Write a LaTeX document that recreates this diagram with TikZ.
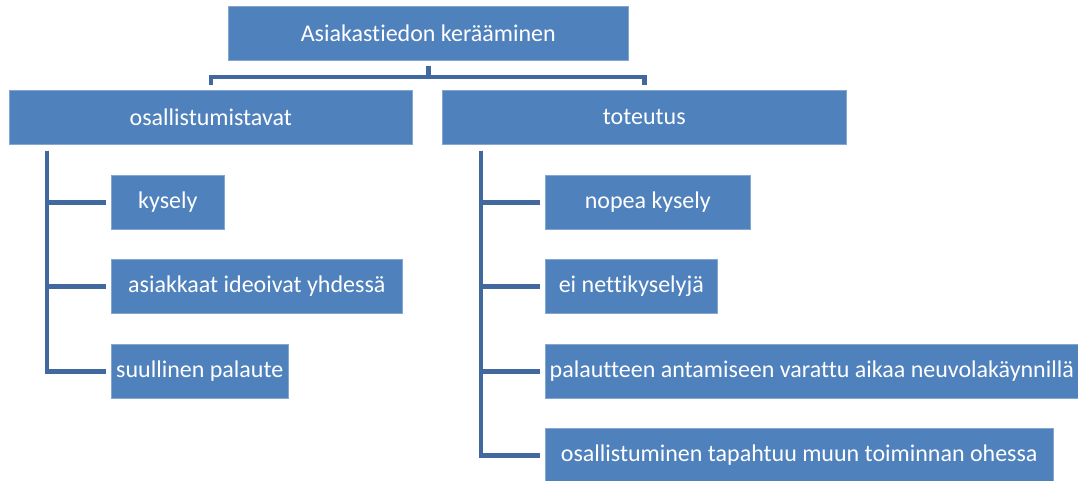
\documentclass[tikz,border=0pt]{standalone}
\usepackage{fontspec}
\setmainfont{Carlito}[Ligatures={NoCommon}]
\definecolor{boxblue}{HTML}{4F81BD}
\definecolor{lineblue}{HTML}{41699F}
\begin{document}
\begin{tikzpicture}[x=1pt,y=-1pt,
  box/.style={anchor=north west,fill=boxblue,draw=boxblue!70!white,line width=0.6pt,
    text=white,inner sep=0pt,font=\fontsize{24}{28}\selectfont,align=center},
  conn/.style={draw=lineblue,line width=4.5pt}]
\useasboundingbox (0,0) rectangle (1078,481);
\node[box,minimum width=400,minimum height=54] (top) at (228,6) {Asiakastiedon kerääminen};
\node[box,minimum width=403,minimum height=54] (osal) at (9,90) {osallistumistavat};
\node[box,minimum width=404,minimum height=54] (tot) at (442,90) {toteutus};
\node[box,minimum width=113,minimum height=54] (kys) at (111,175) {kysely};
\node[box,minimum width=291,minimum height=54] (ide) at (111,259) {asiakkaat ideoivat yhdessä};
\node[box,minimum width=177,minimum height=54] (suu) at (111,344) {suullinen palaute};
\node[box,minimum width=205,minimum height=54] (nop) at (545,175) {nopea kysely};
\node[box,minimum width=172,minimum height=54] (ein) at (545,259) {ei nettikyselyjä};
\node[box,minimum width=533,minimum height=54] (pal) at (545,344) {palautteen antamiseen varattu aikaa neuvolakäynnillä};
\node[box,minimum width=508,minimum height=54] (osa) at (545,428) {osallistuminen tapahtuu muun toiminnan ohessa};
% top connectors
\coordinate (barL) at ([yshift=13pt]osal.north);
\coordinate (barR) at ([yshift=13pt]tot.north);
\draw[conn] ([yshift=5pt]osal.north) -- (barL) -- (barR) -- ([yshift=5pt]tot.north);
\draw[conn] ([yshift=-5pt]top.south) -- (top.south |- barL);
% left tree
\coordinate (lv) at ([xshift=38pt,yshift=-6pt]osal.south west);
\draw[conn] (lv) |- ([xshift=-5pt]kys.west);
\draw[conn] (lv) |- ([xshift=-5pt]ide.west);
\draw[conn] (lv) |- ([xshift=-5pt]suu.west);
% right tree
\coordinate (rv) at ([xshift=39pt,yshift=-6pt]tot.south west);
\draw[conn] (rv) |- ([xshift=-5pt]nop.west);
\draw[conn] (rv) |- ([xshift=-5pt]ein.west);
\draw[conn] (rv) |- ([xshift=-5pt]pal.west);
\draw[conn] (rv) |- ([xshift=-5pt]osa.west);
\end{tikzpicture}
\end{document}
